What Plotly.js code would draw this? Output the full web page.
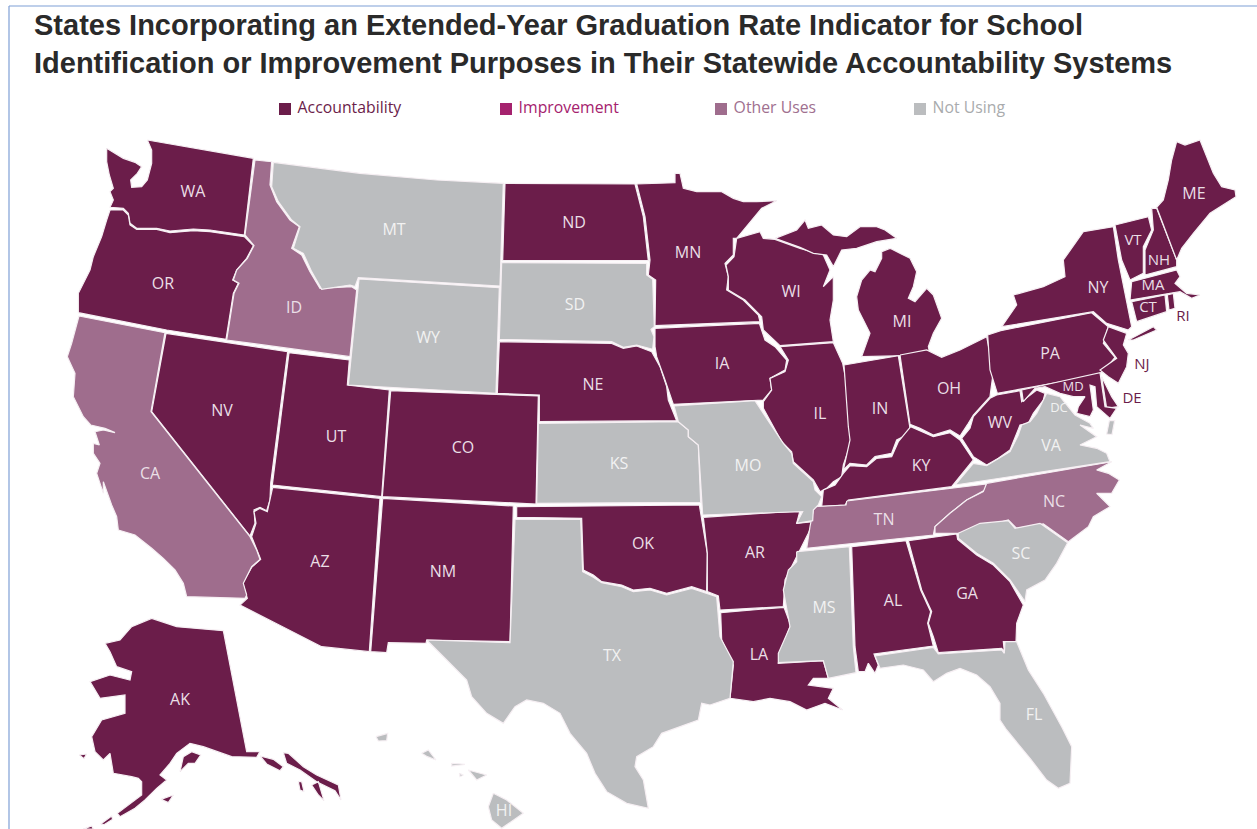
<!DOCTYPE html>
<html><head><meta charset="utf-8">
<script src="https://cdn.plot.ly/plotly-3.0.1.min.js"></script>
<style>html,body{margin:0;background:#fff}</style></head><body>
<div id="c" style="width:1257px;height:829px"></div>
<script>
// --- categories and state groups
const legendLabels=["Accountability","Improvement","Other Uses","Not Using"];
const legendColors=["#6b1d4a","#a5226e","#9f6d8d","#bbbdbf"];
const legendTextColors=["#6b1d4a","#a5226e","#a0708f","#a9abad"];
const accountability=["WA","OR","NV","UT","AZ","CO","NM","ND","MN","NE","IA","WI","IL","MI","IN","OH","KY","WV","PA","NY","VT","NH","ME","MA","RI","CT","NJ","DE","MD","OK","AR","LA","AL","GA","AK"];
const improvement=[];
const otherUses=["ID","CA","TN","NC"];
const notUsing=["MT","WY","SD","KS","MO","TX","MS","SC","FL","VA","HI"];
// --- state label anchors
const labelNames=["WA","OR","ID","MT","WY","CA","NV","UT","CO","AZ","NM","ND","SD","NE","KS","OK","TX","MN","IA","MO","AR","LA","WI","IL","MI","IN","OH","KY","TN","MS","AL","GA","FL","SC","NC","VA","WV","PA","NY","ME","VT","NH","MA","CT","RI","NJ","DE","MD","DC","AK","HI"];
const labelX=[193,163,294,394,428,150,222,336,463,320,443,574,575,593,619,643,612,688,722,748,755,759,791,820,902,880,949,921,884,824,893,967,1034,1021,1054,1051,1000,1050,1098,1194,1133,1159,1153,1148,1183,1142,1132,1073,1059,180,504];
const labelY=[193,285,309,231,339,475,412,438,449,563,573,224,306,386,465,545,657,254,365,467,554,656,293,415,323,410,390,467,521,609,602,595,716,555,503,447,424,355,289,195,241,261,286,308,317,365,399,388,409,701,812];
const darkLabels=["RI","NJ","DE"];
const smallLabels=["MD","DC"];
const mediumLabels=["VT","NH","MA","CT","RI","NJ","DE"];
function S(ox,oy,p){const r=[];for(let i=0;i<p.length;i+=2)r.push([ox+p[i]/3,oy+p[i+1]/3]);return r;}
const W=[60,130],SW=[60,480],C=[480,160],SO=[420,490],E=[760,300],SE=[770,500],NE=[980,180],MEc=[1130,130],MIc=[840,230];
const o={};
o.WA=[S(...W,[140,55,190,85,225,97,245,110,232,130,212,150,215,172,245,170,262,150,275,100,275,60,262,30,580,85,553,315,450,300,400,297,330,303,290,295,230,295,210,280,205,250,190,235,150,232,160,210,150,185,160,175,148,135,140,95])];
o.OR=[S(...W,[150,240,190,240,205,255,210,285,230,298,290,298,330,308,400,302,450,305,553,320,580,347,560,385,530,420,518,450,535,460,520,490,498,628,320,600,55,548,55,490,75,450,90,420,100,380,125,320,140,270])];
o.ID=[S(...W,[585,90,635,95,630,165,650,215,690,270,718,290,695,355,725,375,750,425,780,475,875,470,890,480,870,680,500,630,522,490,537,460,520,450,530,420,562,385,582,347,555,315])];
o.MT=[S(...W,[640,97,900,130,1130,150,1330,160,1320,468,895,443,885,470,870,465,785,478,755,425,730,370,700,355,720,290,695,270,655,215,635,170])];
o.WY=[S(...W,[897,447,1318,473,1308,790,865,765])];
o.CA=[[...S(...W,[57,558,315,608,273,845]),...S(...SW,[570,170,590,210,600,238,575,260,550,310,560,345,555,355,380,350,370,310,345,270,310,235,275,205,225,165,175,150,170,110,155,75,130,5]),...S(...W,[130,1090,110,1030,120,1000,100,970,100,940,118,945,105,905,130,900,165,908,135,895,92,885,70,860,40,800,45,730,22,680,35,640])]];
o.NV=[[...S(...W,[318,610,683,665,632,1060]),...S(...SW,[630,60,620,92,600,82,582,90,585,130,570,168]),...S(...W,[275,845])]];
o.UT=[S(...W,[687,668,868,690,862,765,988,780,965,1100,637,1065])];
o.CO=[[...S(...W,[992,782]),...S(...C,[175,708,168,1032]),...S(...W,[967,1100])]];
o.AZ=[S(...SW,[638,22,960,55,928,515,785,500,540,375,562,355,548,310,575,262,602,238,590,210,575,170,588,130,582,95,600,85,622,95])];
o.NM=[[...S(...SW,[968,55]),...S(...SO,[280,48,270,455,20,450]),...S(...SW,[1098,490,985,488,980,518,932,515])]];
o.ND=[S(...C,[75,70,465,72,490,170,505,302,68,302])];
o.SD=[S(...C,[65,308,500,310,500,345,518,358,523,500,513,508,522,530,518,568,470,555,430,562,395,545,58,538])];
o.MN=[S(...C,[470,72,585,68,585,40,600,40,610,85,650,95,690,95,725,95,760,115,790,125,830,125,890,122,845,145,800,200,770,235,760,235,760,285,735,310,745,350,740,390,790,420,835,465,840,485,525,497,527,360,505,345,510,300,495,170])];
o.WI=[S(...C,[770,235,840,215,850,235,885,238,960,265,1030,285,1050,330,1030,380,1060,350,1060,420,1050,480,1060,545,900,557,850,510,845,470,795,420,745,390,745,350,738,315,762,290])];
o.MI=[S(...C,[885,235,950,210,975,180,985,205,1025,195,1060,225,1100,230,1140,200,1190,200,1215,210,1250,235,1190,245,1130,265,1085,270,1060,320,1040,285,1000,280,960,262]),S(...MIc,[65,380,90,310,55,240,50,200,65,150,90,120,105,125,125,85,125,65,150,55,210,85,230,125,220,170,205,205,225,215,260,175,280,195,305,265,280,310,265,350,270,375])];
o.IA=[S(...C,[525,505,838,490,855,540,885,560,920,600,915,630,870,655,875,690,850,720,580,733,555,660,530,590,525,560])];
o.NE=[S(...C,[58,545,395,550,430,565,470,558,515,575,540,620,560,680,565,720,590,782,178,785,178,705,52,700])];
o.KS=[S(...C,[175,790,595,785,625,810,625,830,655,855,662,1027,170,1030])];
o.MO=[[...S(...C,[582,738,825,722,850,760,880,805,910,850,935,880,940,910,1000,965,1005,990,1025,1010,1015,1035,1000,1050]),...S(...SO,[1178,92,1130,100,1148,65,848,75]),...S(...C,[655,855,625,830,625,810,595,785])]];
o.IL=[S(...C,[900,560,1060,548,1088,610,1098,660,1110,800,1112,850,1090,915,1085,950,1060,965,1040,985,1020,995,1000,960,940,905,935,875,905,845,880,800,850,745,850,725,875,690,870,655,915,635,925,600])];
o.IN=[S(...E,[252,195,415,167,450,385,450,400,410,420,395,460,345,470,320,495,270,490,250,510,270,420,265,380])];
o.OH=[S(...E,[420,165,500,150,545,172,600,150,680,110,700,215,690,290,640,345,625,370,600,408,570,390,520,405,480,385,450,373])];
o.KY=[S(...E,[452,380,480,392,520,410,570,398,600,420,640,480,575,560,265,600,255,615,185,620,190,570,225,555,250,520,270,497,320,500,350,475,395,470,415,425])];
o.WV=[S(...E,[605,415,630,385,640,350,690,295,710,285,780,272,785,305,830,270,855,280,850,300,820,340,805,370,780,375,770,400,750,450,715,475,680,495,640,470])];
o.PA=[S(...E,[683,105,722,92,995,38,1045,80,1030,130,1065,172,1030,215,1000,228,712,280,690,210])];
o.NY=[S(...NE,[65,440,340,395,380,430,445,450,455,440,415,240,400,140,310,155,250,240,255,290,190,320,100,345,110,375,70,435]),S(...NE,[445,480,520,440,530,450,460,480])];
o.VT=[S(...NE,[405,135,505,110,515,150,490,200,490,280,450,300,425,240])];
o.NH=[S(...NE,[515,85,530,85,590,240,590,260,495,285,495,210,520,150])];
o.ME=[[...S(...MEc,[80,232,100,210,115,150,125,90,140,35,165,45,210,30,235,90,250,130,275,170,315,180,318,200,270,230,240,250]),...S(...NE,[640,160,605,205,590,240])]];
o.MA=[S(...NE,[455,305,590,270,600,290,585,310,620,340,660,345,635,355,600,335,570,340,450,360])];
o.CT=[S(...NE,[455,365,555,345,560,395,470,425])];
o.RI=[S(...NE,[562,345,580,340,585,385,567,390])];
o.NJ=[S(...NE,[385,440,440,460,430,495,445,520,440,560,415,610,385,590,360,570,410,535,370,480])];
o.DE=[S(...NE,[365,590,395,650,415,680,380,685])];
o.MD=[S(...NE,[125,630,360,578,375,680,410,685,390,715,350,680,345,620,330,615,340,690,330,710,290,700,295,680,315,650,280,650,240,640,195,620,165,625,130,665])];
o.VA=[S(...E,[585,555,640,490,680,497,750,455,775,405,785,375,810,365,830,340,860,280,900,290,945,345,990,370,1000,385,960,375,1010,410,960,435,1010,445,1040,460,1050,485]),S(...E,[1048,362,1064,362,1056,404,1040,402])];
o.NC=[S(...E,[680,550,1055,485,1010,510,1045,520,1078,540,1055,580,1010,580,1050,620,1000,650,985,680,925,725,850,672,770,685,745,660,600,700,525,700,525,680,570,640,620,600,670,575])];
o.TN=[S(...E,[260,603,680,552,675,570,620,600,570,640,525,680,520,705,140,745,150,680,162,620,258,615])];
o.SC=[S(...SE,[565,100,630,70,715,62,735,85,810,70,893,128,860,190,825,240,770,270,765,305,720,240,670,190,620,160,565,115])];
o.GA=[S(...SE,[415,122,560,102,563,118,620,165,670,195,720,245,760,315,740,370,738,425,700,425,703,455,695,445,505,458,490,410,475,370,485,335,455,270])];
o.AL=[S(...SE,[245,140,408,122,452,270,482,335,473,370,490,438,312,462,325,495,315,520,295,490,285,515,265,515,255,440])];
o.MS=[S(...SE,[80,155,238,140,250,440,258,518,175,535,160,482,25,488,25,460,60,380,50,330,40,270,55,210,80,185])];
o.FL=[S(...SE,[315,468,490,442,505,462,695,450,703,460,705,425,740,425,775,510,820,580,875,680,905,740,900,850,865,865,830,840,780,775,760,750,735,720,710,690,690,660,690,610,660,560,620,525,570,505,530,520,490,545,460,510,400,495,330,505])];
o.LA=[S(...SO,[902,368,1092,352,1112,405,1080,490,1075,520,1210,512,1225,565,1180,565,1165,585,1200,590,1240,595,1225,625,1268,660,1215,640,1160,660,1110,635,1050,625,1000,635,930,625,940,525,905,450])];
o.AR=[S(...SO,[850,82,1140,62,1130,100,1180,95,1165,130,1130,200,1095,270,1090,350,900,360,895,318,862,305,862,190])];
o.OK=[S(...SO,[290,50,838,45,862,190,860,305,815,290,740,310,690,295,640,300,605,285,545,275,520,255,490,240,485,85,290,82])];
o.TX=[S(...SO,[285,88,482,88,488,245,520,262,545,278,605,290,640,305,690,300,740,315,815,295,890,320,900,440,940,515,930,625,870,645,845,640,835,690,780,710,725,730,700,770,650,800,645,830,670,870,685,955,620,940,560,905,525,850,500,790,450,730,420,670,370,640,320,630,285,650,250,700,200,670,155,620,140,570,80,510,20,450,270,458])];
o.AK=[S(...SW,[135,490,180,480,215,440,275,415,350,440,490,452,560,815,600,815,590,832,515,830,430,800,390,790,350,820,330,850,300,885,320,900,290,925,255,960,225,985,180,1010,172,1000,220,965,245,945,245,905,235,895,215,890,160,880,150,820,130,840,105,815,95,770,125,720,195,700,195,645,120,655,90,605,150,585,210,600,215,575,170,560,150,515]),S(...SW,[360,875,370,830,395,815,422,825,405,850,385,850]),S(...SW,[600,828,640,838,670,860,660,872,620,852]),S(...SW,[670,818,685,820,730,860,770,885,835,915,843,960,825,932,770,905,720,870,680,850]),S(...SW,[715,905,725,905,732,935,720,930]),S(...SW,[755,915,775,905,792,962,775,945]),S(...SW,[122,1032,155,1008,158,1018,132,1034]),S(...SW,[70,1047,95,1038,100,1047]),S(...SW,[58,825,80,822,72,836]),S(...SW,[303,958,340,945,325,968])];
o.HI=[S(...SO,[220,910,260,930,310,970,245,1015,215,990,205,950]),S(...SO,[145,840,200,855,170,870]),S(...SO,[5,790,25,780,48,810,22,800]),S(...SW,[948,770,983,760,980,782,955,783]),S(...SO,[95,820,135,823,95,828]),S(...SO,[118,850,130,855,120,860])];

function stateTrace(code,color){
  const x=[],y=[];
  o[code].forEach((ring,i)=>{ if(i){x.push(null);y.push(null);} ring.forEach(p=>{x.push(p[0]);y.push(p[1]);}); x.push(ring[0][0]); y.push(ring[0][1]); });
  return {type:'scatter',mode:'lines',x,y,fill:'toself',fillcolor:color,line:{color:'#f6eff3',width:1.2},hoverinfo:'text',text:code,showlegend:false,name:code};
}
const traces=[];
accountability.forEach(s=>traces.push(stateTrace(s,legendColors[0])));
improvement.forEach(s=>traces.push(stateTrace(s,legendColors[1])));
otherUses.forEach(s=>traces.push(stateTrace(s,legendColors[2])));
notUsing.forEach(s=>traces.push(stateTrace(s,legendColors[3])));
traces.push({type:'scatter',mode:'text',x:labelX,y:labelY,text:labelNames,textposition:'middle center',hoverinfo:'skip',showlegend:false,
  textfont:{family:'"Open Sans",sans-serif',size:labelNames.map(n=>smallLabels.includes(n)?13:(mediumLabels.includes(n)?15:16)),color:labelNames.map(n=>darkLabels.includes(n)?'#6b1d4a':(notUsing.includes(n)||n==='DC'?'#f2f2f2':'#eadfe6'))}});
const legendX=[285,506,721,920];
traces.push({type:'scatter',mode:'markers+text',x:legendX,y:legendX.map(()=>109),text:legendLabels.map(t=>' '+t),textposition:'middle right',hoverinfo:'skip',showlegend:false,
  marker:{symbol:'square',size:12,color:legendColors},textfont:{family:'"Open Sans",sans-serif',size:15.8,color:legendTextColors}});
const layout={width:1257,height:829,margin:{l:0,r:0,t:0,b:0},paper_bgcolor:'#fff',plot_bgcolor:'#fff',showlegend:false,
  xaxis:{range:[0,1257],visible:false,fixedrange:true},yaxis:{range:[829,0],visible:false,fixedrange:true},
  title:{text:'<b>States Incorporating an Extended-Year Graduation Rate Indicator for School<br>Identification or Improvement Purposes in Their Statewide Accountability Systems</b>',
    x:34/1257,xanchor:'left',y:0.958,yanchor:'top',font:{family:'"Liberation Sans",sans-serif',size:29,color:'#2a2a2a'}},
  shapes:[{type:'line',xref:'paper',yref:'paper',x0:9/1257,x1:1,y0:1-6/829,y1:1-6/829,line:{color:'#7f9fd6',width:1.2}},
          {type:'line',xref:'paper',yref:'paper',x0:9/1257,x1:9/1257,y0:0,y1:1-6/829,line:{color:'#7f9fd6',width:1.2}}]};
Plotly.newPlot('c',traces,layout,{displayModeBar:false});
</script></body></html>
